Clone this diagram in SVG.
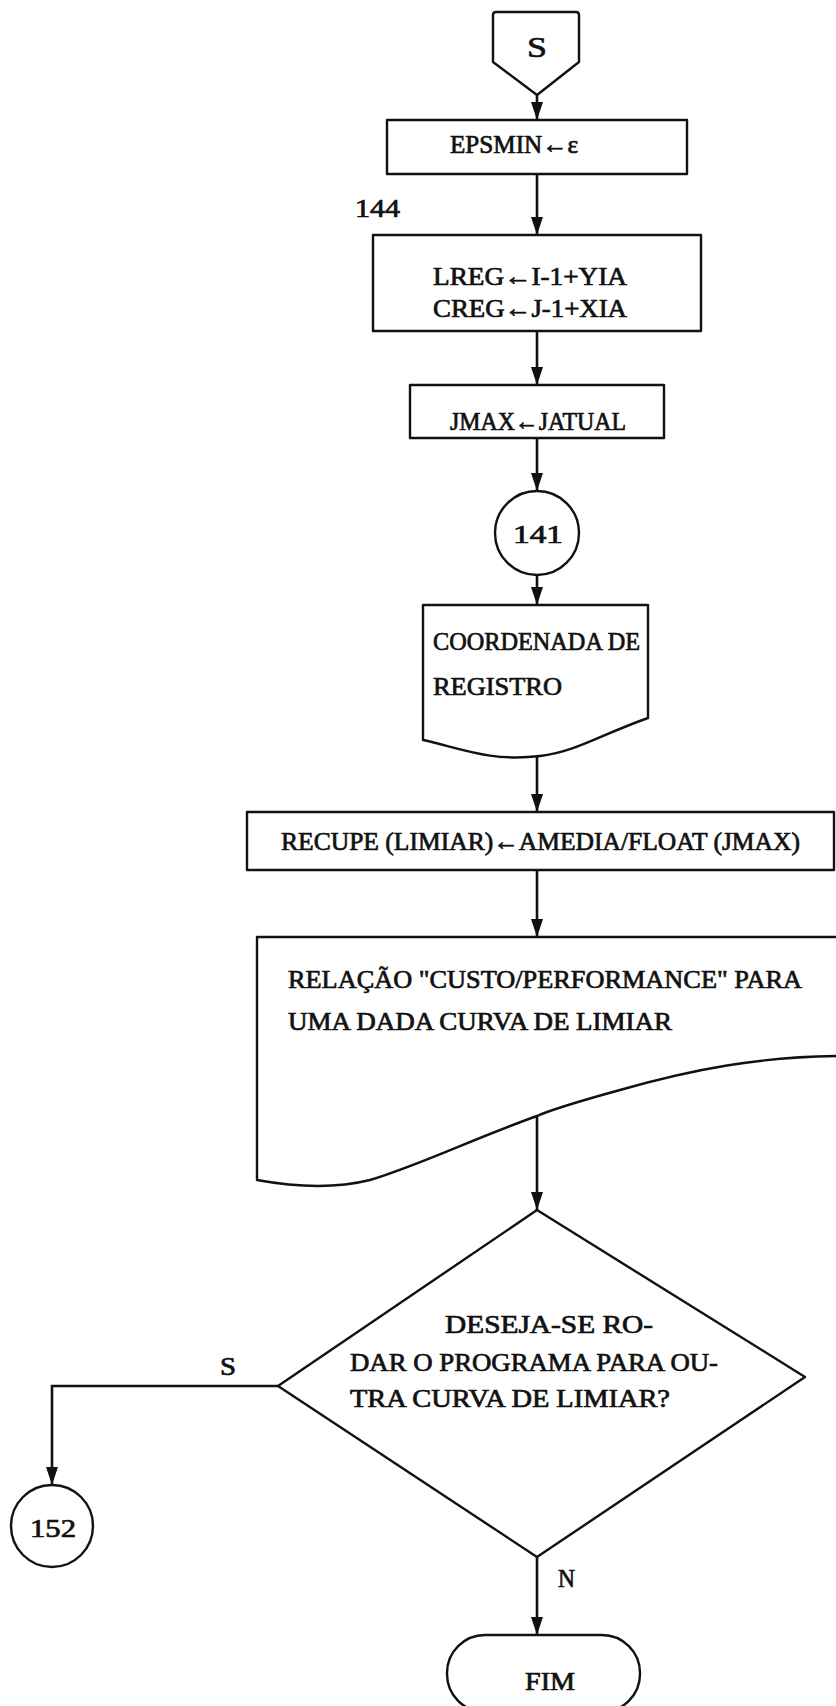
<svg xmlns="http://www.w3.org/2000/svg" width="836" height="1706" viewBox="0 0 836 1706">
<defs>
<style>
.shape{fill:none;stroke:#111;stroke-width:2.4;stroke-linejoin:round}
.conn{fill:none;stroke:#111;stroke-width:2.6}
text{font-family:"Liberation Serif","DejaVu Serif",serif;font-size:25px;fill:#111;stroke:#111;stroke-width:0.7}
</style>
<marker id="arr" markerUnits="userSpaceOnUse" markerWidth="18" markerHeight="12" viewBox="0 0 18 12" refX="18" refY="6" orient="auto">
<path d="M0,0 L18,6 L0,12 Z" fill="#111"/>
</marker>
</defs>
<rect width="836" height="1706" fill="#fff"/>

<g id="connectors">
<path class="conn" d="M537,95 V120" marker-end="url(#arr)"/>
<path class="conn" d="M537,174 V235" marker-end="url(#arr)"/>
<path class="conn" d="M537,331 V385" marker-end="url(#arr)"/>
<path class="conn" d="M537,438 V491" marker-end="url(#arr)"/>
<path class="conn" d="M537,575 V605" marker-end="url(#arr)"/>
<path class="conn" d="M537,756 V812" marker-end="url(#arr)"/>
<path class="conn" d="M537,870 V937" marker-end="url(#arr)"/>
<path class="conn" d="M537,1116 V1210" marker-end="url(#arr)"/>
<path class="conn" d="M278,1386 H52 V1485" marker-end="url(#arr)"/>
<path class="conn" d="M537,1557 V1635" marker-end="url(#arr)"/>
<text x="220" y="1375" textLength="16" lengthAdjust="spacingAndGlyphs">S</text>
<text x="558" y="1587" textLength="17" lengthAdjust="spacingAndGlyphs">N</text>
</g>

<g id="start">
<path class="shape" d="M493,15 Q493,12 496,12 H576 Q579,12 579,15 V62 L537,95 L493,62 Z"/>
<text x="527" y="57" textLength="20" lengthAdjust="spacingAndGlyphs" style="font-size:30px">S</text>
</g>

<g id="epsmin">
<rect class="shape" x="387" y="120" width="300" height="54"/>
<text x="450" y="153" textLength="128" lengthAdjust="spacingAndGlyphs">EPSMIN←ε</text>
</g>

<g id="label144">
<text x="355" y="217" textLength="45" lengthAdjust="spacingAndGlyphs">144</text>
</g>

<g id="lreg">
<rect class="shape" x="373" y="235" width="328" height="96"/>
<text x="433" y="285" textLength="194" lengthAdjust="spacingAndGlyphs">LREG←I-1+YIA</text>
<text x="433" y="317" textLength="194" lengthAdjust="spacingAndGlyphs">CREG←J-1+XIA</text>
</g>

<g id="jmax">
<rect class="shape" x="410" y="385" width="254" height="53"/>
<text x="450" y="430" textLength="176" lengthAdjust="spacingAndGlyphs">JMAX←JATUAL</text>
</g>

<g id="c141">
<circle class="shape" cx="537" cy="533" r="42"/>
<text x="513" y="543" textLength="50" lengthAdjust="spacingAndGlyphs">141</text>
</g>

<g id="coord">
<path class="shape" d="M423,605 H648 V718 C600,735 575,752 540,756 C490,762 460,748 423,740 Z"/>
<text x="433" y="650" textLength="207" lengthAdjust="spacingAndGlyphs">COORDENADA DE</text>
<text x="433" y="695" textLength="129" lengthAdjust="spacingAndGlyphs">REGISTRO</text>
</g>

<g id="recupe">
<rect class="shape" x="247" y="812" width="587" height="58"/>
<text x="281" y="850" textLength="519" lengthAdjust="spacingAndGlyphs">RECUPE (LIMIAR)←AMEDIA/FLOAT (JMAX)</text>
</g>

<g id="relacao">
<path class="shape" d="M257,937 H845 V1056 C760,1056 690,1070 620,1090 C580,1101 555,1108 537,1116 C470,1140 420,1165 370,1180 C330,1190 290,1186 257,1180 Z"/>
<text x="288" y="988" textLength="514" lengthAdjust="spacingAndGlyphs">RELAÇÃO "CUSTO/PERFORMANCE" PARA</text>
<text x="288" y="1030" textLength="384" lengthAdjust="spacingAndGlyphs">UMA DADA CURVA DE LIMIAR</text>
</g>

<g id="decision">
<path class="shape" d="M537,1210 L805,1377 L537,1557 L278,1386 Z"/>
<text x="445" y="1333" textLength="208" lengthAdjust="spacingAndGlyphs">DESEJA-SE RO-</text>
<text x="350" y="1371" textLength="368" lengthAdjust="spacingAndGlyphs">DAR O PROGRAMA PARA OU-</text>
<text x="350" y="1407" textLength="320" lengthAdjust="spacingAndGlyphs">TRA CURVA DE LIMIAR?</text>
</g>

<g id="c152">
<circle class="shape" cx="52" cy="1526" r="41"/>
<text x="30" y="1537" textLength="46" lengthAdjust="spacingAndGlyphs">152</text>
</g>

<g id="fim">
<path class="shape" d="M485,1635 H602 A38,38 0 0 1 640,1673 V1674 A38,38 0 0 1 602,1712 H485 A38,38 0 0 1 447,1674 V1673 A38,38 0 0 1 485,1635 Z"/>
<text x="525" y="1690" textLength="50" lengthAdjust="spacingAndGlyphs">FIM</text>
</g>
</svg>
